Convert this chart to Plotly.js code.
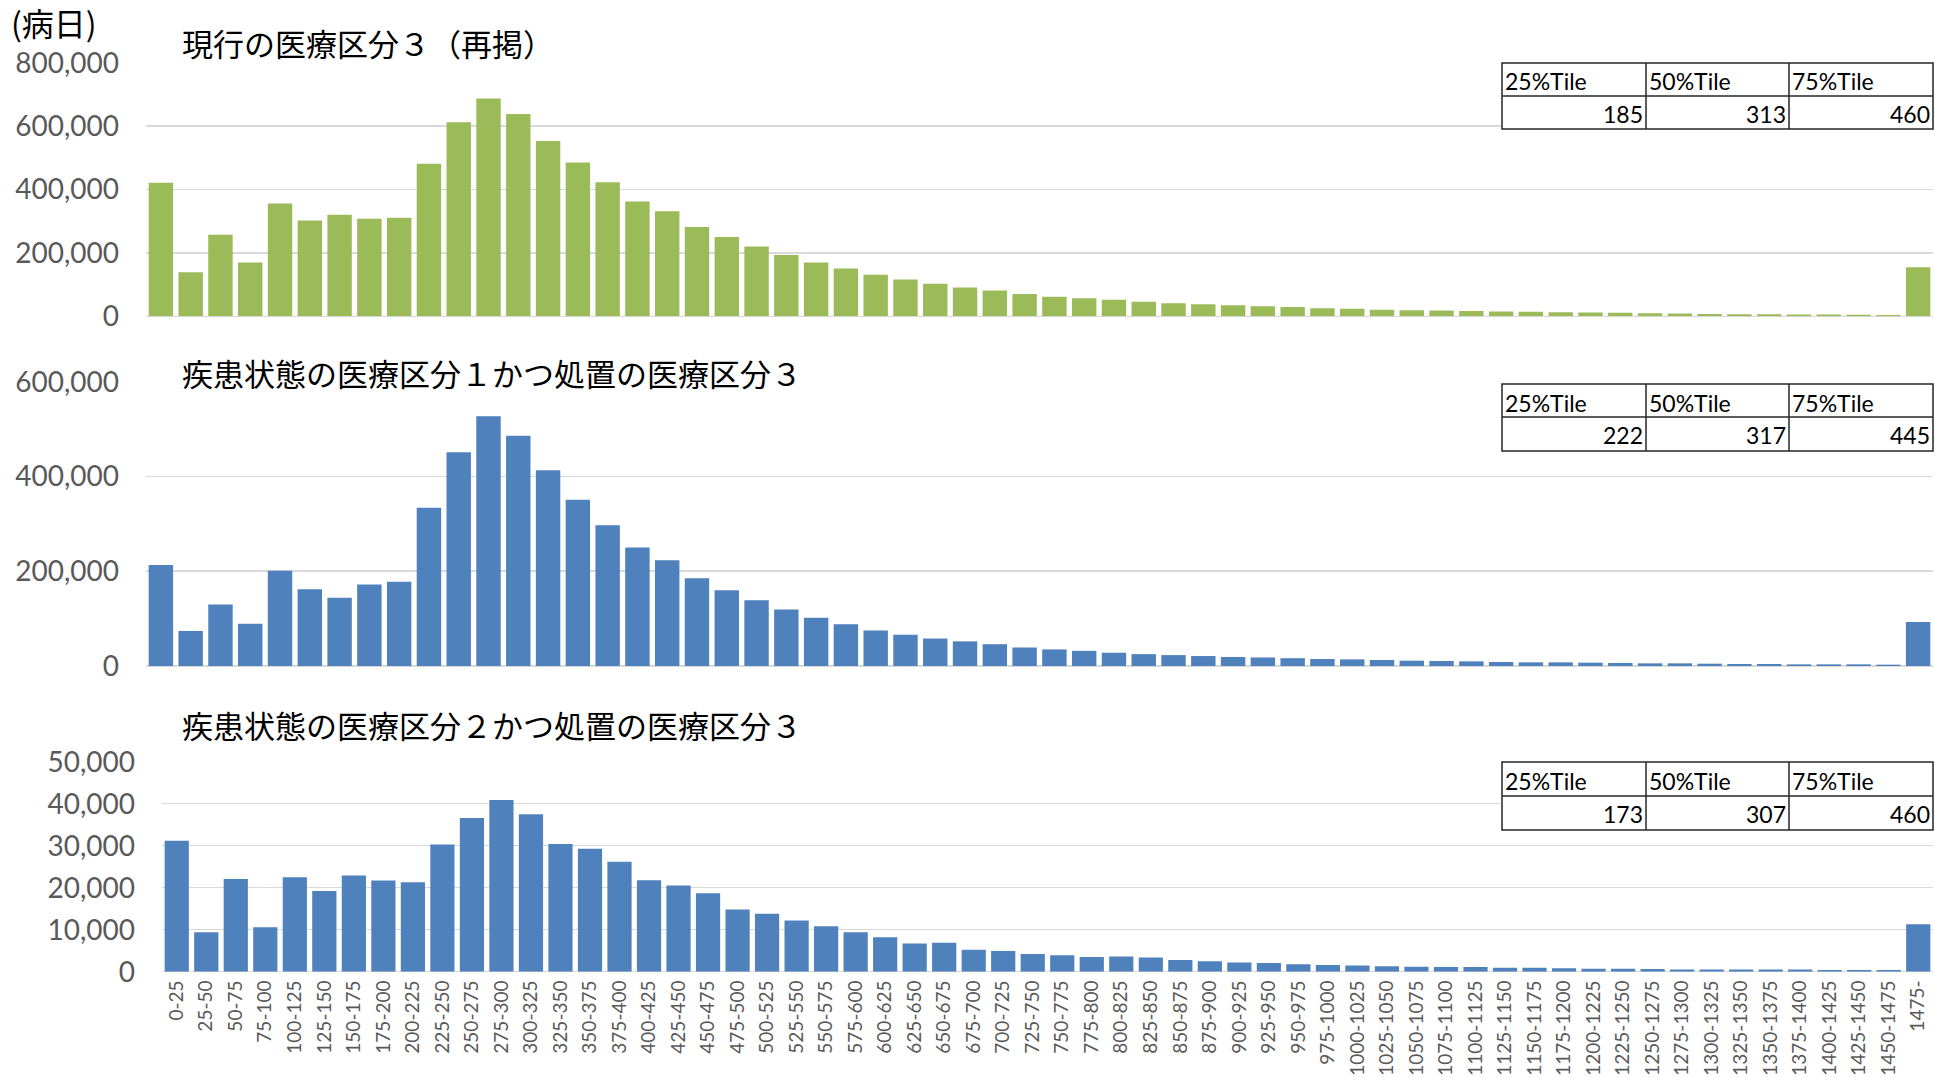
<!DOCTYPE html>
<html>
<head>
<meta charset="utf-8">
<script src="https://cdn.plot.ly/plotly-3.0.1.min.js"></script>
<style>
  html, body { margin: 0; padding: 0; background: #ffffff; }
  #chart { width: 1935px; height: 1078px; }
</style>
</head>
<body>
<div id="chart"></div>
<script>
// ---------------- DATA ----------------
const categories = [
  "0-25","25-50","50-75","75-100","100-125","125-150","150-175","175-200","200-225","225-250",
  "250-275","275-300","300-325","325-350","350-375","375-400","400-425","425-450","450-475","475-500",
  "500-525","525-550","550-575","575-600","600-625","625-650","650-675","675-700","700-725","725-750",
  "750-775","775-800","800-825","825-850","850-875","875-900","900-925","925-950","950-975","975-1000",
  "1000-1025","1025-1050","1050-1075","1075-1100","1100-1125","1125-1150","1150-1175","1175-1200","1200-1225","1225-1250",
  "1250-1275","1275-1300","1300-1325","1325-1350","1350-1375","1375-1400","1400-1425","1425-1450","1450-1475","1475-"
];

const currentClass3 = [
  421000, 139000, 257000, 170000, 356000, 302000, 320000, 308000, 311000, 481000,
  612000, 687000, 638000, 553000, 485000, 423000, 362000, 331000, 282000, 250000,
  220000, 193000, 170000, 151000, 131000, 116000, 103000, 91000, 81000, 70000,
  62000, 57000, 52000, 46000, 41000, 38000, 35000, 32000, 29000, 25000,
  24000, 21000, 19000, 18000, 17000, 15000, 14000, 13000, 12000, 11000,
  10000, 8500, 7500, 6500, 6300, 5500, 5300, 4500, 4200, 155000
];

const state1Proc3 = [
  213000, 74000, 130000, 89000, 201000, 162000, 144000, 172000, 178000, 334000,
  451000, 527000, 486000, 413000, 351000, 297000, 250000, 223000, 185000, 160000,
  139000, 119000, 102000, 88000, 75000, 66000, 58000, 52000, 46000, 39000,
  35000, 32000, 28000, 25000, 23000, 21000, 19000, 18000, 16500, 14700,
  14000, 12600, 11200, 10500, 9800, 8400, 7700, 7700, 7000, 6300,
  5600, 5600, 4900, 4200, 4200, 3500, 3500, 3500, 2800, 93000
];

const state2Proc3 = [
  31200, 9400, 22100, 10600, 22500, 19200, 22900, 21700, 21300, 30300,
  36600, 40900, 37500, 30400, 29300, 26200, 21800, 20500, 18700, 14800,
  13800, 12200, 10800, 9400, 8200, 6700, 6900, 5200, 4900, 4200,
  3900, 3500, 3600, 3400, 2800, 2500, 2200, 2100, 1800, 1600,
  1500, 1300, 1200, 1100, 1100, 950, 950, 800, 700, 700,
  630, 550, 500, 500, 500, 500, 400, 400, 400, 11300
];

const titles = [
  "現行の医療区分３（再掲）",
  "疾患状態の医療区分１かつ処置の医療区分３",
  "疾患状態の医療区分２かつ処置の医療区分３"
];
const unitLabel = "(病日)";

const pctHeaders = ["25%Tile", "50%Tile", "75%Tile"];
const pct1 = [185, 313, 460];
const pct2 = [222, 317, 445];
const pct3 = [173, 307, 460];

const yTicks1 = [0, 200000, 400000, 600000, 800000];
const yTicks2 = [0, 200000, 400000, 600000];
const yTicks3 = [0, 10000, 20000, 30000, 40000, 50000];

// ---------------- LAYOUT HELPERS ----------------
const W = 1935, H = 1078;
const px = x => x / W;
const py = y => 1 - y / H;

const GREEN = "#9BBB59";
const BLUE = "#4F81BD";
const GRID = "#D9D9D9";
const TICKC = "#595959";
const NUMFONT = "Lato, 'Liberation Sans', sans-serif";
const JPFONT = "'Noto Sans CJK JP', 'Noto Sans', sans-serif";

const traces = [
  { type: "bar", x: categories, y: currentClass3, xaxis: "x", yaxis: "y",
    marker: { color: GREEN }, hoverinfo: "x+y" },
  { type: "bar", x: categories, y: state1Proc3, xaxis: "x2", yaxis: "y2",
    marker: { color: BLUE }, hoverinfo: "x+y" },
  { type: "bar", x: categories, y: state2Proc3, xaxis: "x3", yaxis: "y3",
    marker: { color: BLUE }, hoverinfo: "x+y" }
];

function yAxis(range, ticks, top, bottom, anchor) {
  return {
    anchor: anchor,
    domain: [py(bottom), py(top)],
    range: range,
    tickvals: ticks,
    tickformat: ",d",
    showgrid: true, gridcolor: GRID, gridwidth: 1.5,
    zeroline: true, zerolinecolor: GRID, zerolinewidth: 1.5,
    showline: false, ticks: "",
    ticklabelstandoff: 26,
    tickfont: { family: NUMFONT, size: 28, color: TICKC },
    fixedrange: true
  };
}
function xAxis(left, right, anchor, showLabels) {
  return {
    anchor: anchor,
    domain: [px(left), px(right)],
    type: "category",
    showgrid: false, zeroline: false, showline: false, ticks: "",
    showticklabels: showLabels,
    tickangle: -90,
    ticklabelstandoff: 4,
    tickfont: { family: NUMFONT, size: 19, color: TICKC },
    fixedrange: true
  };
}

// table geometry (pixels)
const tblCols = [1502, 1646, 1789, 1933];
const tables = [
  { top: 63, mid: 96, bottom: 129, vals: pct1 },
  { top: 384, mid: 417, bottom: 451, vals: pct2 },
  { top: 762, mid: 796, bottom: 830, vals: pct3 }
];

const shapes = [];
const annotations = [];
const LINEC = "#262626";
tables.forEach(t => {
  shapes.push({ type: "rect", xref: "paper", yref: "paper", layer: "above",
    x0: px(tblCols[0]), x1: px(tblCols[3]), y0: py(t.bottom), y1: py(t.top),
    fillcolor: "#ffffff", line: { color: LINEC, width: 1.5 } });
  shapes.push({ type: "line", xref: "paper", yref: "paper", layer: "above",
    x0: px(tblCols[0]), x1: px(tblCols[3]), y0: py(t.mid), y1: py(t.mid),
    line: { color: LINEC, width: 1.5 } });
  [1, 2].forEach(i => shapes.push({ type: "line", xref: "paper", yref: "paper", layer: "above",
    x0: px(tblCols[i]), x1: px(tblCols[i]), y0: py(t.bottom), y1: py(t.top),
    line: { color: LINEC, width: 1.5 } }));
  pctHeaders.forEach((h, i) => {
    annotations.push({ xref: "paper", yref: "paper", x: px(tblCols[i] + 1), y: py((t.top + t.mid) / 2 + 2),
      xanchor: "left", yanchor: "middle", showarrow: false, text: h,
      font: { family: NUMFONT, size: 23, color: "#000000" } });
    annotations.push({ xref: "paper", yref: "paper", x: px(tblCols[i + 1] - 1), y: py((t.mid + t.bottom) / 2 + 1),
      xanchor: "right", yanchor: "middle", showarrow: false, text: String(t.vals[i]),
      font: { family: NUMFONT, size: 23, color: "#000000" } });
  });
});

// titles
const titleY = [42, 372, 724];
titles.forEach((t, i) => annotations.push({
  xref: "paper", yref: "paper", x: px(180), y: py(titleY[i]),
  xanchor: "left", yanchor: "middle", showarrow: false, text: t,
  font: { family: JPFONT, size: 31, color: "#000000" }
}));
annotations.push({
  xref: "paper", yref: "paper", x: px(9), y: py(22),
  xanchor: "left", yanchor: "middle", showarrow: false, text: unitLabel,
  font: { family: JPFONT, size: 32, color: "#000000" }
});

const layout = {
  width: W, height: H,
  margin: { l: 0, r: 0, t: 0, b: 0 },
  paper_bgcolor: "#ffffff", plot_bgcolor: "rgba(0,0,0,0)",
  showlegend: false,
  bargap: 0.18,
  xaxis: xAxis(146, 1933, "y", false),
  yaxis: yAxis([0, 800000], yTicks1, 62.7, 316.3, "x"),
  xaxis2: xAxis(146, 1933, "y2", false),
  yaxis2: yAxis([0, 600000], yTicks2, 381.7, 666, "x2"),
  xaxis3: xAxis(162, 1933, "y3", true),
  yaxis3: yAxis([0, 50000], yTicks3, 761.7, 971.7, "x3"),
  shapes: shapes,
  annotations: annotations
};

Plotly.newPlot("chart", traces, layout, { displayModeBar: false, staticPlot: true });
</script>
</body>
</html>
